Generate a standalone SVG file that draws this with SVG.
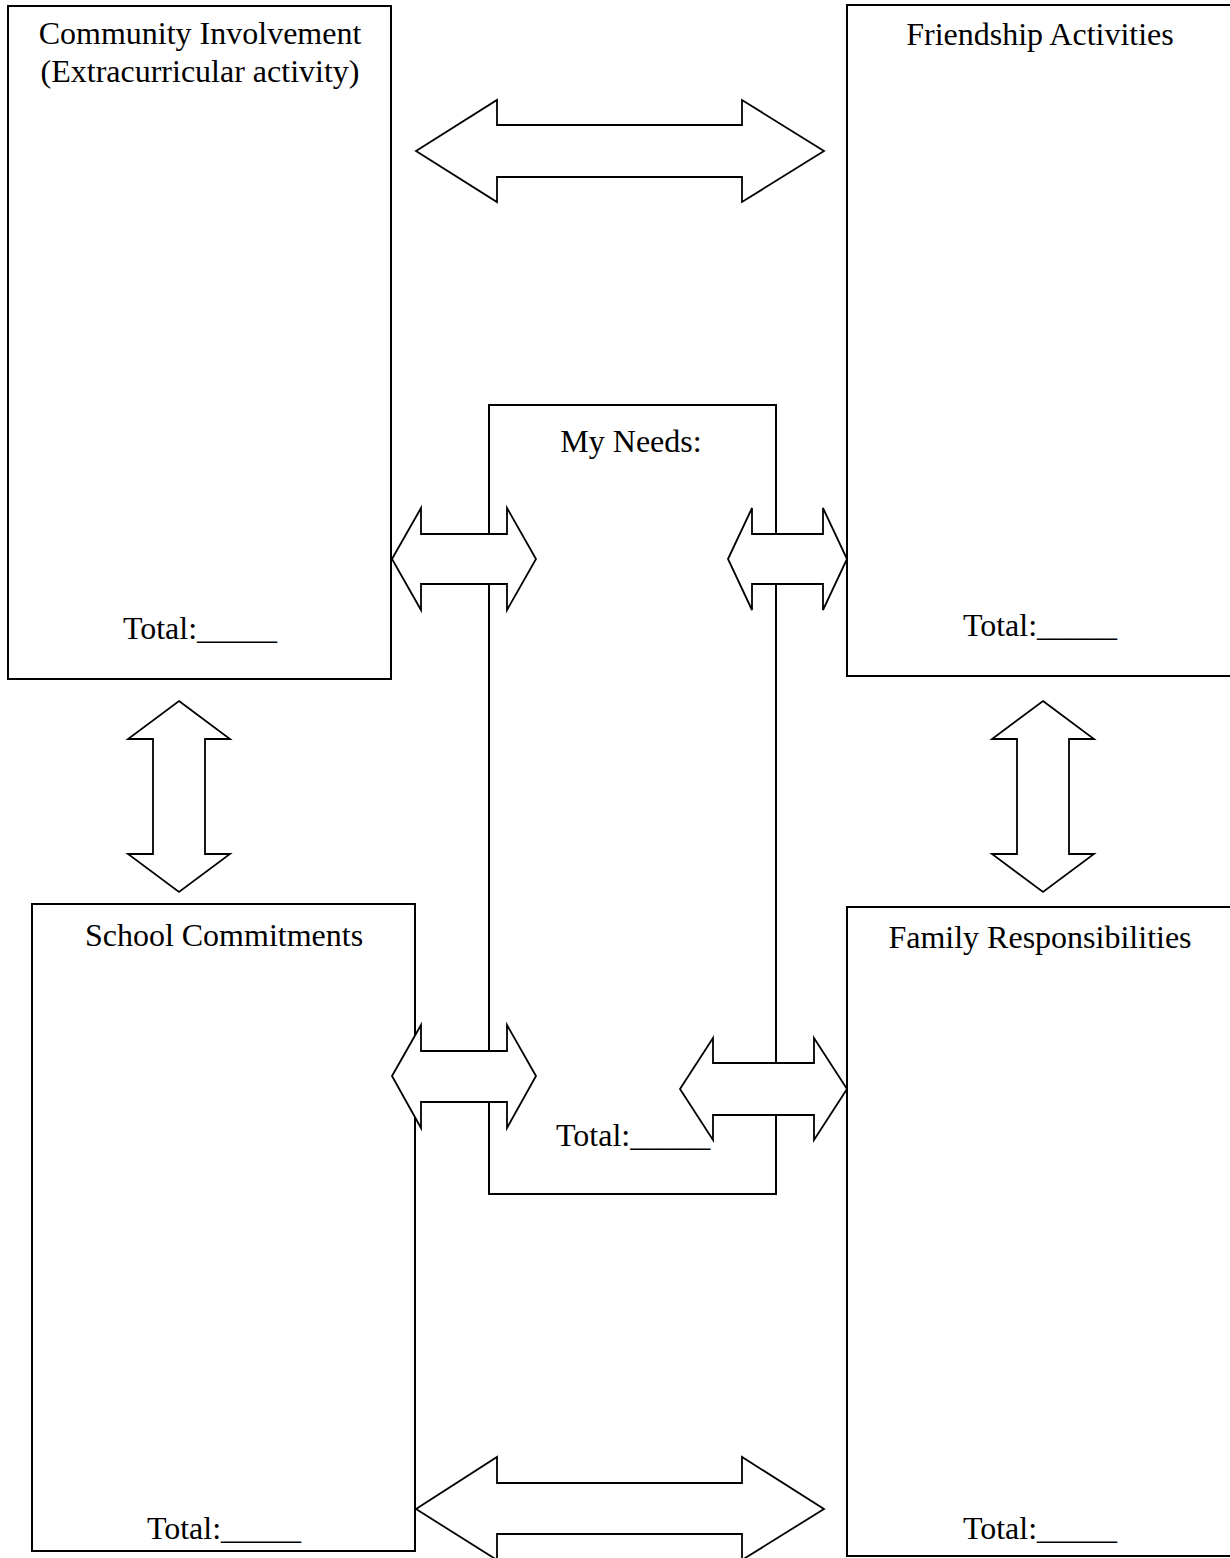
<svg xmlns="http://www.w3.org/2000/svg" width="1230" height="1558" viewBox="0 0 1230 1558">
  <style>
    .box { fill: #ffffff; stroke: #000000; stroke-width: 2; }
    .arrow { fill: #ffffff; stroke: #000000; stroke-width: 1.8; stroke-linejoin: miter; }
    .lbl { font-family: "Liberation Serif", "Times New Roman", serif; font-size: 32px; fill: #000000; }
    .mid { text-anchor: middle; }
  </style>
  <rect width="1230" height="1558" fill="#ffffff"/>
  <g id="community">
    <rect class="box" x="8" y="6" width="383" height="673"/>
    <text class="lbl mid" x="200" y="44">Community Involvement</text>
    <text class="lbl mid" x="200" y="82">(Extracurricular activity)</text>
    <text class="lbl mid" x="200" y="639">Total:_____</text>
  </g>
  <g id="friendship">
    <rect class="box" x="847" y="5" width="386" height="671"/>
    <text class="lbl mid" x="1040" y="45">Friendship Activities</text>
    <text class="lbl mid" x="1040" y="636">Total:_____</text>
  </g>
  <g id="school">
    <rect class="box" x="32" y="904" width="383" height="647"/>
    <text class="lbl mid" x="224" y="946">School Commitments</text>
    <text class="lbl mid" x="224" y="1539">Total:_____</text>
  </g>
  <g id="family">
    <rect class="box" x="847" y="907" width="386" height="649"/>
    <text class="lbl mid" x="1040" y="948">Family Responsibilities</text>
    <text class="lbl mid" x="1040" y="1539">Total:_____</text>
  </g>
  <g id="myneeds">
    <rect class="box" x="489" y="405" width="287" height="789"/>
    <text class="lbl mid" x="631" y="452">My Needs:</text>
    <text class="lbl" x="556" y="1146">Total:_____</text>
  </g>
  <g id="connectors">
    <polygon class="arrow" points="416,151 497,100 497,125 742,125 742,100 824,151 742,202 742,177 497,177 497,202"/>
    <polygon class="arrow" points="392,559 421,508 421,534 507,534 507,508 536,559 507,610 507,584 421,584 421,610"/>
    <polygon class="arrow" points="728,559 752,508 752,534 823,534 823,508 847,559 823,610 823,584 752,584 752,610"/>
    <polygon class="arrow" points="392,1076 421,1025 421,1051 507,1051 507,1025 536,1076 507,1128 507,1102 421,1102 421,1128"/>
    <polygon class="arrow" points="680,1089 713,1038 713,1063 814,1063 814,1038 847,1089 814,1140 814,1115 713,1115 713,1140"/>
    <polygon class="arrow" points="416,1509 497,1457 497,1483 742,1483 742,1457 824,1509 742,1560 742,1534 497,1534 497,1560"/>
    <polygon class="arrow" points="179,701 230,739 205,739 205,854 230,854 179,892 128,854 153,854 153,739 128,739"/>
    <polygon class="arrow" points="1043,701 1094,739 1069,739 1069,854 1094,854 1043,892 992,854 1017,854 1017,739 992,739"/>
  </g>
</svg>
